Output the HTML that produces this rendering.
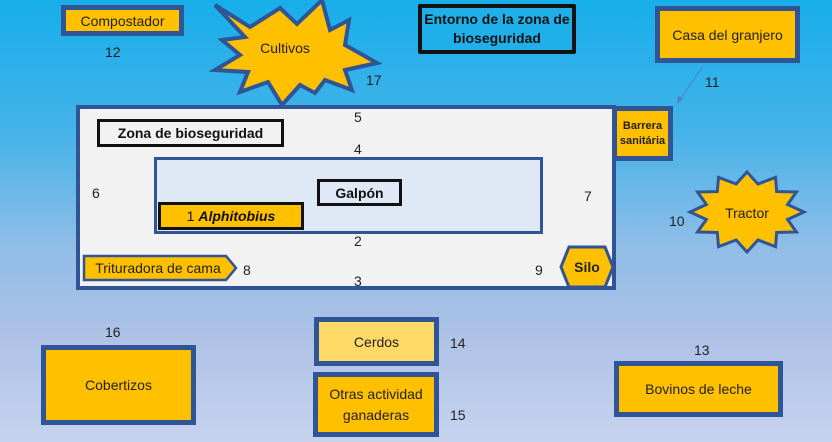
<!DOCTYPE html>
<html><head><meta charset="utf-8"><style>
body{margin:0;width:832px;height:442px;overflow:hidden;font-family:"Liberation Sans",sans-serif;}
#bg{position:absolute;left:0;top:0;width:832px;height:442px;background:linear-gradient(#17aeea 0%,#44b3e9 30%,#8ebde7 55%,#adc1e6 75%,#c6d3ee 100%);}
.b{position:absolute;box-sizing:border-box;display:flex;align-items:center;justify-content:center;text-align:center;font-size:14px;color:#222;}
.y{background:#ffc000;border:5px solid #2f5597;}
.n{position:absolute;font-size:14px;color:#222;}
svg{position:absolute;left:0;top:0;}
</style></head><body>
<div id="bg"></div>
<div class="b" style="left:76px;top:105px;width:540px;height:185px;background:#f2f2f2;border:4px solid #2f5597;"></div>
<div class="b" style="left:154px;top:157px;width:389px;height:77px;background:#dee9f5;border:3px solid #2f5597;"></div>
<svg width="832" height="442">
<polygon points="215,5 250,27 280,8 297,24 322,0 330,30 349,20 345,45 377,63 345,70 352,90 325,80 315,93 300,85 282,105 268,82 240,92 248,72 215,70 240,55 222,40 245,37" fill="#ffc000" stroke="#2f5597" stroke-width="4" stroke-linejoin="miter"/>
<polygon points="747,172 757.9,184 775.5,177.4 776.7,191.5 796.4,192 787.6,204.5 804,212 787.6,219.5 796.4,232 776.7,232.5 775.5,246.6 757.9,240 747,252 736.1,240 718.5,246.6 717.3,232.5 697.6,232 706.4,219.5 690,212 706.4,204.5 697.6,192 717.3,191.5 718.5,177.4 736.1,184" fill="#ffc000" stroke="#2f5597" stroke-width="3"/>
<polygon points="84,256 226,256 236,268 226,280 84,280" fill="#ffc000" stroke="#2f5597" stroke-width="2.5"/>
<polygon points="569,247 605,247 613,267 605,287 569,287 561,267" fill="#ffc000" stroke="#2f5597" stroke-width="3"/>
<line x1="703" y1="66" x2="679" y2="101" stroke="#4a7fd0" stroke-width="1"/>
<polygon points="677,104 678,96 683,99" fill="#4a7fd0"/>
</svg>
<div class="b" style="left:250px;top:38px;width:70px;height:20px;">Cultivos</div>
<div class="b" style="left:717px;top:203px;width:60px;height:20px;">Tractor</div>
<div class="b" style="left:84px;top:256px;width:148px;height:24px;font-size:14px;">Trituradora de cama</div>
<div class="b" style="left:561px;top:247px;width:52px;height:40px;font-weight:bold;font-size:14px;">Silo</div>
<div class="b y" style="left:61px;top:5px;width:123px;height:31px;">Compostador</div>
<div class="b" style="left:418px;top:4px;width:158px;height:50px;background:#1fb0ea;border:4px solid #111;border-radius:2px;font-weight:bold;line-height:19px;color:#111;">Entorno de la zona de<br>bioseguridad</div>
<div class="b y" style="left:655px;top:6px;width:145px;height:57px;">Casa del granjero</div>
<div class="b y" style="left:612px;top:106px;width:61px;height:55px;font-size:11px;font-weight:bold;line-height:15px;">Barrera<br>sanitária</div>
<div class="b" style="left:97px;top:119px;width:187px;height:28px;background:#f2f2f2;border:3px solid #111;font-weight:bold;font-size:14px;color:#111;">Zona de bioseguridad</div>
<div class="b" style="left:317px;top:179px;width:85px;height:27px;background:#dee9f5;border:3px solid #111;font-weight:bold;color:#111;">Galpón</div>
<div class="b" style="left:158px;top:202px;width:146px;height:28px;background:#ffc000;border:3px solid #111;color:#111;">1&nbsp;<b><i>Alphitobius</i></b></div>
<div class="b y" style="left:41px;top:345px;width:155px;height:80px;">Cobertizos</div>
<div class="b" style="left:314px;top:317px;width:125px;height:49px;background:#ffd966;border:5px solid #2f5597;">Cerdos</div>
<div class="b y" style="left:313px;top:372px;width:126px;height:65px;line-height:21px;">Otras actividad<br>ganaderas</div>
<div class="b y" style="left:614px;top:361px;width:169px;height:56px;">Bovinos de leche</div>
<div class="n" style="left:105px;top:44px;">12</div>
<div class="n" style="left:366px;top:72px;">17</div>
<div class="n" style="left:705px;top:74px;">11</div>
<div class="n" style="left:354px;top:109px;">5</div>
<div class="n" style="left:354px;top:141px;">4</div>
<div class="n" style="left:92px;top:185px;">6</div>
<div class="n" style="left:584px;top:188px;">7</div>
<div class="n" style="left:669px;top:213px;">10</div>
<div class="n" style="left:354px;top:233px;">2</div>
<div class="n" style="left:243px;top:262px;">8</div>
<div class="n" style="left:535px;top:262px;">9</div>
<div class="n" style="left:354px;top:273px;">3</div>
<div class="n" style="left:105px;top:324px;">16</div>
<div class="n" style="left:450px;top:335px;">14</div>
<div class="n" style="left:694px;top:342px;">13</div>
<div class="n" style="left:450px;top:407px;">15</div>
</body></html>
